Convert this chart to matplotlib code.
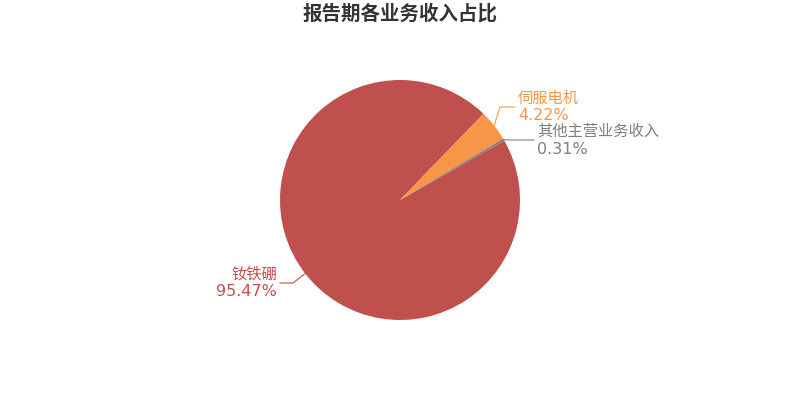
import numpy as np
import matplotlib.pyplot as plt

plt.rcParams['font.family'] = ['DejaVu Sans', 'Noto Sans CJK SC']

# data
names = ['钕铁硼', '伺服电机', '其他主营业务收入']
shares = [95.47, 4.22, 0.31]
colors = ['#c0504d', '#f79646', '#7f7f7f']

# pie geometry (pixels, y measured upward)
cx, cy, r = 400, 200, 120
start = 29.6

fig = plt.figure(figsize=(8, 4), dpi=100)
ax = fig.add_axes([0, 0, 1, 1])

wedges, _ = ax.pie(shares, colors=colors, startangle=start, counterclock=False,
                   center=(cx, cy), radius=r, wedgeprops=dict(linewidth=0))
ax.set_xlim(0, 800)
ax.set_ylim(0, 400)
ax.set_aspect('equal')
ax.axis('off')

# label layout: elbow point, end of horizontal line (pixels from top)
layout = [
    ((293, 283), (280, 283), 'right'),
    ((500, 107), (515, 107), 'left'),
    ((512, 140), (534, 140), 'left'),
]

for w, name, val, col, (elbow, end, ha) in zip(wedges, names, shares, colors, layout):
    mid = np.deg2rad((w.theta1 + w.theta2) / 2)
    sx, sy = cx + r * np.cos(mid), cy + r * np.sin(mid)
    ex, ey = elbow[0], 400 - elbow[1]
    tx, ty = end[0], 400 - end[1]
    ax.plot([sx, ex, tx], [sy, ey, ty], color=col, lw=0.8)
    off = 3 if ha == 'left' else -3
    ax.text(tx + off, ty + 8.5, name, color=col, fontsize=11, ha=ha, va='center',
            family=['Noto Sans CJK SC', 'DejaVu Sans'])
    ax.text(tx + off, ty - 7.5, f'{val:.2f}%', color=col, fontsize=11.5, ha=ha,
            va='center_baseline')

fig.text(0.5, 1 - 14 / 400, '报告期各业务收入占比', ha='center', va='center',
         fontsize=14, fontweight='bold', color='#333333',
         family=['Noto Sans CJK SC', 'DejaVu Sans'])

fig.savefig('out.png', dpi=100, facecolor='white')
